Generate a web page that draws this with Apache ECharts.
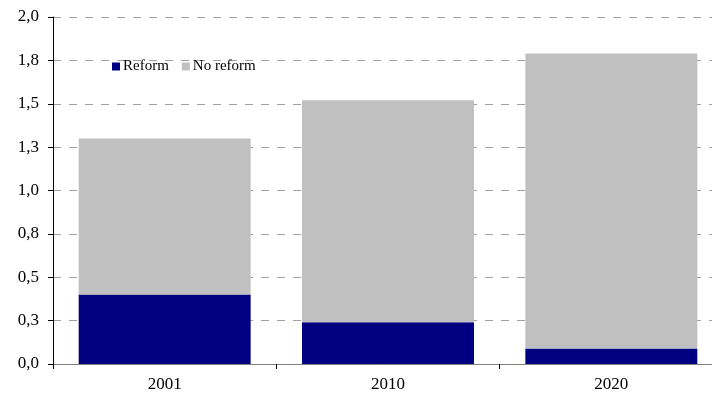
<!DOCTYPE html>
<html>
<head>
<meta charset="utf-8">
<script src="https://cdn.jsdelivr.net/npm/echarts@6/dist/echarts.min.js"></script>
<style>html,body{margin:0;padding:0;background:#fff;overflow:hidden}#c{width:712px;height:403px}</style>
</head>
<body>
<div id="c"></div>
<script>
const categories = ['2001', '2010', '2020'];
const reform = [0.40, 0.24, 0.09];
const noReform = [0.90, 1.28, 1.70];
const yTickLabels = ['0,0', '0,3', '0,5', '0,8', '1,0', '1,3', '1,5', '1,8', '2,0'];

const FONT = '"Liberation Serif", serif';
const chart = echarts.init(document.getElementById('c'), null, {renderer: 'canvas'});
chart.setOption({
  animation: false,
  backgroundColor: '#fff',
  grid: {left: 53, right: -11, top: 17, bottom: 39, containLabel: false, outerBoundsMode: 'none'},
  legend: {
    left: 107, top: 54,
    itemWidth: 8, itemHeight: 8, itemGap: 13,
    icon: 'rect',
    textStyle: {fontFamily: FONT, fontSize: 15, color: '#000', padding: [0, 0, 0, -2]},
    data: ['Reform', 'No reform']
  },
  xAxis: {
    type: 'category',
    data: categories,
    axisLine: {lineStyle: {color: '#808080', width: 1}},
    axisTick: {show: true, length: 5, lineStyle: {color: '#000'}},
    axisLabel: {fontFamily: FONT, fontSize: 17, color: '#000', margin: 12}
  },
  yAxis: {
    type: 'value',
    min: 0, max: 2, interval: 0.25,
    axisLine: {show: true, lineStyle: {color: '#000', width: 1}},
    axisTick: {show: true, length: 5, lineStyle: {color: '#000'}},
    axisLabel: {
      fontFamily: FONT, fontSize: 17, color: '#000', margin: 14,
      formatter: v => yTickLabels[Math.round(v / 0.25)]
    },
    splitLine: {show: true, lineStyle: {color: '#a0a0a0', type: [8, 8], width: 1}}
  },
  series: [
    {name: 'Reform', type: 'bar', stack: 'a', data: reform, barWidth: '77%',
     itemStyle: {color: '#000080'}},
    {name: 'No reform', type: 'bar', stack: 'a', data: noReform, barWidth: '77%',
     itemStyle: {color: '#c0c0c0'}}
  ]
});
</script>
</body>
</html>
